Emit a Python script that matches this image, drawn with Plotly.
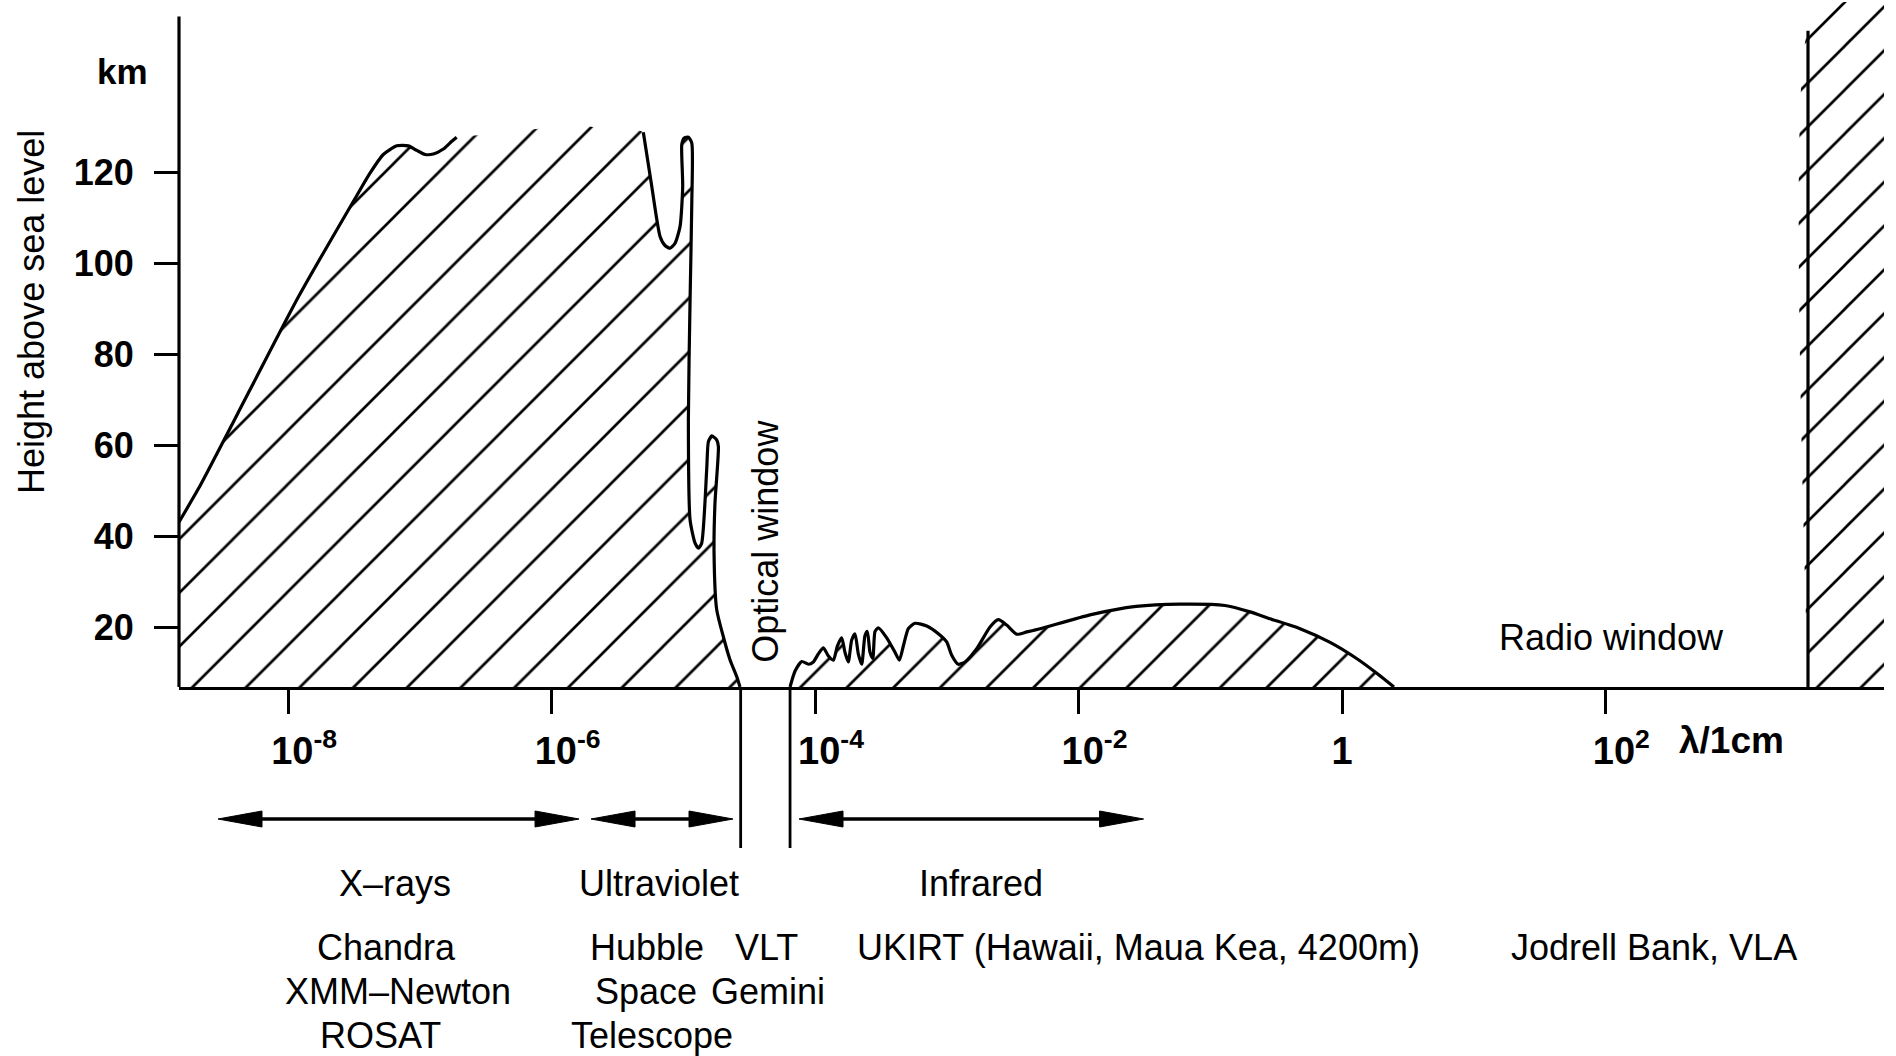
import numpy as np
import plotly.graph_objects as go

# ---------------------------------------------------------------------------
# Data: absorbing layers of the atmosphere.
# Each edge point is (log10 of wavelength in cm, height above sea level in km).
# ---------------------------------------------------------------------------
xray_edge = [
    (-8.833, 43.1), (-8.680, 50.7), (-8.291, 72.3), (-7.918, 93.0),
    (-7.480, 115.0), (-7.380, 119.9), (-7.279, 124.0), (-7.177, 125.9),
    (-7.089, 125.9), (-7.025, 124.9), (-6.962, 124.0), (-6.899, 124.1),
    (-6.823, 125.2), (-6.759, 126.9), (-6.722, 127.8),
]
# open upper limit of the hatched band between the X-ray and UV edges
upper_limit = [(-6.36, 128.5), (-5.89, 130.5), (-5.51, 129.5)]
uv_edge = [
    (-5.305, 128.9), (-5.241, 117.0), (-5.178, 106.0), (-5.140, 104.0),
    (-5.102, 103.4), (-5.064, 104.5), (-5.026, 108.2), (-5.006, 117.0),
    (-5.013, 126.2), (-4.996, 127.6), (-4.963, 127.8), (-4.937, 126.5),
    (-4.937, 113.3), (-4.950, 92.1), (-4.963, 65.7), (-4.950, 43.7),
    (-4.912, 38.6), (-4.887, 37.5), (-4.862, 38.6), (-4.824, 54.7),
    (-4.811, 60.9), (-4.786, 62.2), (-4.748, 61.3), (-4.735, 59.8),
    (-4.761, 47.4), (-4.768, 36.4), (-4.748, 24.0), (-4.698, 18.1),
    (-4.647, 13.0), (-4.596, 9.3), (-4.571, 7.0),
]
ir_edge = [
    (-4.191, 7.0), (-4.153, 10.5), (-4.102, 12.6), (-4.052, 12.0),
    (-4.014, 12.5), (-3.976, 14.3), (-3.938, 15.6), (-3.900, 13.8),
    (-3.862, 12.9), (-3.832, 16.0), (-3.799, 17.8), (-3.774, 14.6),
    (-3.749, 12.5), (-3.723, 17.3), (-3.698, 18.7), (-3.673, 14.3),
    (-3.647, 12.0), (-3.622, 18.3), (-3.604, 19.2), (-3.584, 14.6),
    (-3.563, 13.3), (-3.546, 19.2), (-3.521, 20.0), (-3.457, 17.8),
    (-3.394, 14.6), (-3.361, 12.9), (-3.331, 16.0), (-3.293, 19.8),
    (-3.242, 21.0), (-3.153, 20.4), (-3.065, 18.7), (-3.002, 16.9),
    (-2.964, 14.0), (-2.913, 12.0), (-2.863, 12.5), (-2.774, 15.4),
    (-2.673, 20.2), (-2.610, 21.8), (-2.546, 20.6), (-2.470, 18.6),
    (-2.394, 19.1), (-2.293, 19.8), (-1.906, 22.9), (-1.564, 24.7),
    (-1.230, 25.2), (-0.889, 24.9), (-0.699, 23.5), (-0.548, 22.0),
    (-0.319, 19.8), (-0.091, 16.8), (0.113, 13.2), (0.273, 9.8),
    (0.394, 7.0),
]
# long-wavelength cut-off of the radio window (ionosphere)
radio_cutoff = [(3.537, 7.0), (3.537, 151.2)]
radio_block = [(3.537, 7.0), (3.537, 151.2), (3.75, 157.0), (4.3, 157.0), (4.3, 7.0)]

# spectral bands (log10 of wavelength in cm)
band_from = [-8.534, -5.702, -4.123]
band_to = [-5.793, -4.624, -1.507]
optical_window = [-4.566, -4.191]

x_tick_exp = [-8, -6, -4, -2, 0, 2]
x_tick_text = ["10<sup>-8</sup>", "10<sup>-6</sup>", "10<sup>-4</sup>",
               "10<sup>-2</sup>", "1", "10<sup>2</sup>"]
y_ticks = [20, 40, 60, 80, 100, 120]

band_names = ["X–rays", "Ultraviolet", "Infrared"]
instrument_rows = [
    ["Chandra", "Hubble", "VLT", "UKIRT (Hawaii, Maua Kea, 4200m)", "Jodrell Bank, VLA"],
    ["XMM–Newton", "Space", "Gemini"],
    ["ROSAT", "Telescope"],
]

# ---------------------------------------------------------------------------
# Geometry / style
# ---------------------------------------------------------------------------
W, H = 1896, 1056
PL, PW, PT, PH = 179, 1705, 2, 685
X_RANGE = [-8.83, 4.114]
Y_RANGE = [7.0, 157.5]
FONT = "Liberation Sans, Arial, Helvetica, sans-serif"
INK = "black"
EDGE_W = 3.2


def px_x(x):
    return (x - PL) / PW


def px_y(y):
    return (PT + PH - y) / PH


def wl(pts):
    return [10.0 ** p[0] for p in pts]


def hk(pts):
    return [p[1] for p in pts]


def num(v):
    return np.format_float_positional(v, trim="-")


fig = go.Figure()

floor = Y_RANGE[0]
main_region = [(-9.0, floor), (-9.0, xray_edge[0][1])] + xray_edge + upper_limit + uv_edge


def hatch(size, lw):
    return dict(shape="/", size=size, solidity=lw / size, fgcolor=INK,
                bgcolor="white", fillmode="replace")


# hatched absorbing regions
for pts, size in ((main_region, 38), (ir_edge, 33), (radio_block, 31)):
    fig.add_trace(go.Scatter(
        x=wl(pts), y=hk(pts), mode="lines", fill="toself",
        fillpattern=hatch(size, 2.7), fillcolor="white",
        line=dict(width=0, shape="spline", smoothing=0.6),
        hoverinfo="skip", showlegend=False))

# boundary curves
for pts, shape in ((xray_edge, "spline"), (uv_edge, "spline"),
                   (ir_edge, "spline"), (radio_cutoff, "linear")):
    fig.add_trace(go.Scatter(
        x=wl(pts), y=hk(pts), mode="lines",
        line=dict(color=INK, width=EDGE_W, shape=shape, smoothing=0.6),
        hoverinfo="skip", showlegend=False))

# vertical axis line (stops below the top of the frame)
fig.add_shape(type="line", xref="paper", yref="y", x0=0, x1=0, y0=floor, y1=154.3,
              line=dict(color=INK, width=EDGE_W))

# optical window markers below the axis
for e in optical_window:
    fig.add_shape(type="line", xref="x", yref="paper", x0=10.0 ** e, x1=10.0 ** e,
                  y0=0, y1=px_y(848), line=dict(color=INK, width=2.8))

# double-headed band arrows
head_dec = 44 / (PW / (X_RANGE[1] - X_RANGE[0]))
head_half = 8 / PH
arrow_y = px_y(819)
for lo, hi in zip(band_from, band_to):
    fig.add_shape(type="line", xref="x", yref="paper",
                  x0=10.0 ** (lo + head_dec * 0.5), x1=10.0 ** (hi - head_dec * 0.5),
                  y0=arrow_y, y1=arrow_y, line=dict(color=INK, width=3.4))
    for tip, base in ((lo, lo + head_dec), (hi, hi - head_dec)):
        path = (f"M{num(10.0 ** tip)},{arrow_y} "
                f"L{num(10.0 ** base)},{arrow_y + head_half} "
                f"L{num(10.0 ** base)},{arrow_y - head_half} Z")
        fig.add_shape(type="path", path=path, xref="x", yref="paper",
                      fillcolor=INK, line=dict(color=INK, width=1))

ann = []


def text(t, x, y, size=36, bold=False, angle=0, xref="paper", yref="paper"):
    ann.append(dict(text=t, x=x, y=y, xref=xref, yref=yref, showarrow=False,
                    xanchor="center", yanchor="middle", textangle=angle,
                    font=dict(family=FONT, size=size, color=INK,
                              weight="bold" if bold else "normal")))


text("Height above sea level", px_x(31), px_y(312), size=36, angle=-90)
text("km", px_x(122), px_y(72), size=35, bold=True)
text("λ/1cm", px_x(1731), px_y(740), size=37, bold=True)
text("Optical window", sum(optical_window) / 2, 39, angle=-90, xref="x", yref="y")
text("Radio window", 2.042, 17.8, xref="x", yref="y")

band_x = [395, 659, 981]
for name, bx in zip(band_names, band_x):
    text(name, px_x(bx), px_y(883))

row_y = [947, 991, 1035]
row_x = [[386, 647, 766, 1138, 1654], [398, 646, 768], [380, 652]]
for labels, xs, ry in zip(instrument_rows, row_x, row_y):
    for lab, lx in zip(labels, xs):
        text(lab, px_x(lx), px_y(ry))

# the power-of-ten labels are centred on their mantissa "10"
pad = "\u00a0\u00a0\u00a0"
x_labels = [(pad + t) if "<sup>" in t else t for t in x_tick_text]

x_tick_font = dict(family=FONT, size=38, color=INK, weight="bold")
y_tick_font = dict(family=FONT, size=36, color=INK, weight="bold")
fig.update_xaxes(type="log", range=X_RANGE, showline=True, linewidth=EDGE_W, linecolor=INK,
                 ticks="outside", ticklen=24, tickwidth=3, tickcolor=INK,
                 tickvals=[10.0 ** e for e in x_tick_exp], ticktext=x_labels,
                 tickfont=x_tick_font, showgrid=False, zeroline=False, ticklabelstandoff=4)
fig.update_yaxes(range=Y_RANGE, showline=False, ticks="outside", ticklen=24, tickwidth=3,
                 tickcolor=INK, tickvals=y_ticks, tickfont=y_tick_font,
                 showgrid=False, zeroline=False, ticklabelstandoff=13)

fig.update_layout(width=W, height=H, autosize=False,
                  margin=dict(l=PL, r=W - PL - PW, t=PT, b=H - PT - PH, autoexpand=False),
                  paper_bgcolor="white", plot_bgcolor="white",
                  showlegend=False, annotations=ann)

fig.write_html("out.html", config={"displayModeBar": False})
